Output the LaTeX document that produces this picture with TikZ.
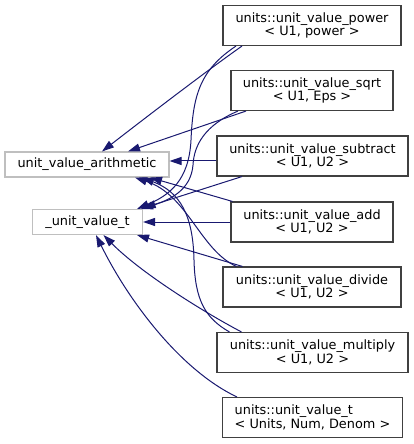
\documentclass[tikz,border=0pt]{standalone}
\usepackage{fontspec}
\setmainfont{DejaVu Sans}
\usetikzlibrary{arrows.meta,calc}
\definecolor{edgeblue}{HTML}{191970}
\definecolor{boxgray}{HTML}{BFBFBF}
\definecolor{boxdark}{HTML}{404040}
\begin{document}
\begin{tikzpicture}[x=1bp,y=-1bp,
  cls/.style={draw=boxdark, line width=1.1bp, fill=white, inner sep=0pt, align=center,
    font=\fontsize{12.9}{13.4}\selectfont, minimum height=40bp},
  basecls/.style={draw=boxgray, line width=1.1bp, fill=white, inner sep=0pt,
    font=\fontsize{12.9}{13.4}\selectfont, minimum height=25bp},
  edge/.style={draw=edgeblue, line width=1bp, -{Triangle[length=12bp,width=8bp]}}]
\useasboundingbox (0,0) rectangle (413,444);
% derived classes
\node[cls, minimum width=178bp] (power) at (312,25.5) {units::unit\_value\_power\\< U1, power >};
\node[cls, minimum width=162bp] (sqrt) at (312,90.5) {units::unit\_value\_sqrt\\< U1, Eps >};
\node[cls, minimum width=191bp] (subtract) at (312.5,156) {units::unit\_value\_subtract\\< U1, U2 >};
\node[cls, minimum width=162bp] (add) at (312,222) {units::unit\_value\_add\\< U1, U2 >};
\node[cls, minimum width=178bp] (divide) at (312,287) {units::unit\_value\_divide\\< U1, U2 >};
\node[cls, minimum width=191bp] (multiply) at (312.5,352.5) {units::unit\_value\_multiply\\< U1, U2 >};
\node[cls, minimum width=180bp, align=left] (ut) at (312.5,417.5) {units::unit\_value\_t\\< Units, Num, Denom >};
% base classes
\node[basecls, minimum width=164bp] (arith) at (87,164.5) {unit\_value\_arithmetic};
\node[basecls, minimum width=110bp] (uvt) at (87.5,222) {\_unit\_value\_t};
% edges to arith
\draw[edge] ($(power.south)+(-70,0)$) .. controls (205,72) and (140,122) .. ($(arith.north)+(15,0)$);
\draw[edge] ($(sqrt.south)+(-66,0)$) -- ($(arith.north)+(41,0)$);
\draw[edge] ($(subtract.west)+(0,5)$) -- ($(arith.east)+(0,-3.5)$);
\draw[edge] ($(add.north west)+(2,0)$) -- ($(arith.south)+(63,0)$);
\draw[edge] ($(divide.north west)+(14,0)$) .. controls (200,250) and (188,195) .. ($(arith.south)+(48,0)$);
\draw[edge] ($(multiply.north west)+(13,0)$) .. controls (205,318) and (195,300) .. (194,260)
  .. controls (193,215) and (180,192) .. ($(arith.south)+(55,0)$);
% edges to uvt
\draw[edge] ($(power.south)+(-76,0)$) .. controls (200,70) and (193,95) .. (191,140)
  .. controls (189,180) and (170,195) .. ($(uvt.north east)+(-6,0)$);
\draw[edge] ($(sqrt.south)+(-74,0)$) .. controls (205,125) and (194,145) .. (193,165)
  .. controls (191,190) and (170,200) .. ($(uvt.north east)+(-2,0)$);
\draw[edge] ($(subtract.south)+(-70.5,0)$) -- ($(uvt.north east)+(0.5,-1)$);
\draw[edge] (add.west) -- (uvt.east);
\draw[edge] ($(divide.north west)+(20,0)$) -- ($(uvt.south east)+(-6,0)$);
\draw[edge] ($(multiply.north west)+(25,0)$) .. controls (200,310) and (140,272) .. ($(uvt.south)+(16,0)$);
\draw[edge] ($(ut.north west)+(15,0)$) .. controls (180,370) and (128,300) .. ($(uvt.south)+(8.5,0)$);
\end{tikzpicture}
\end{document}
